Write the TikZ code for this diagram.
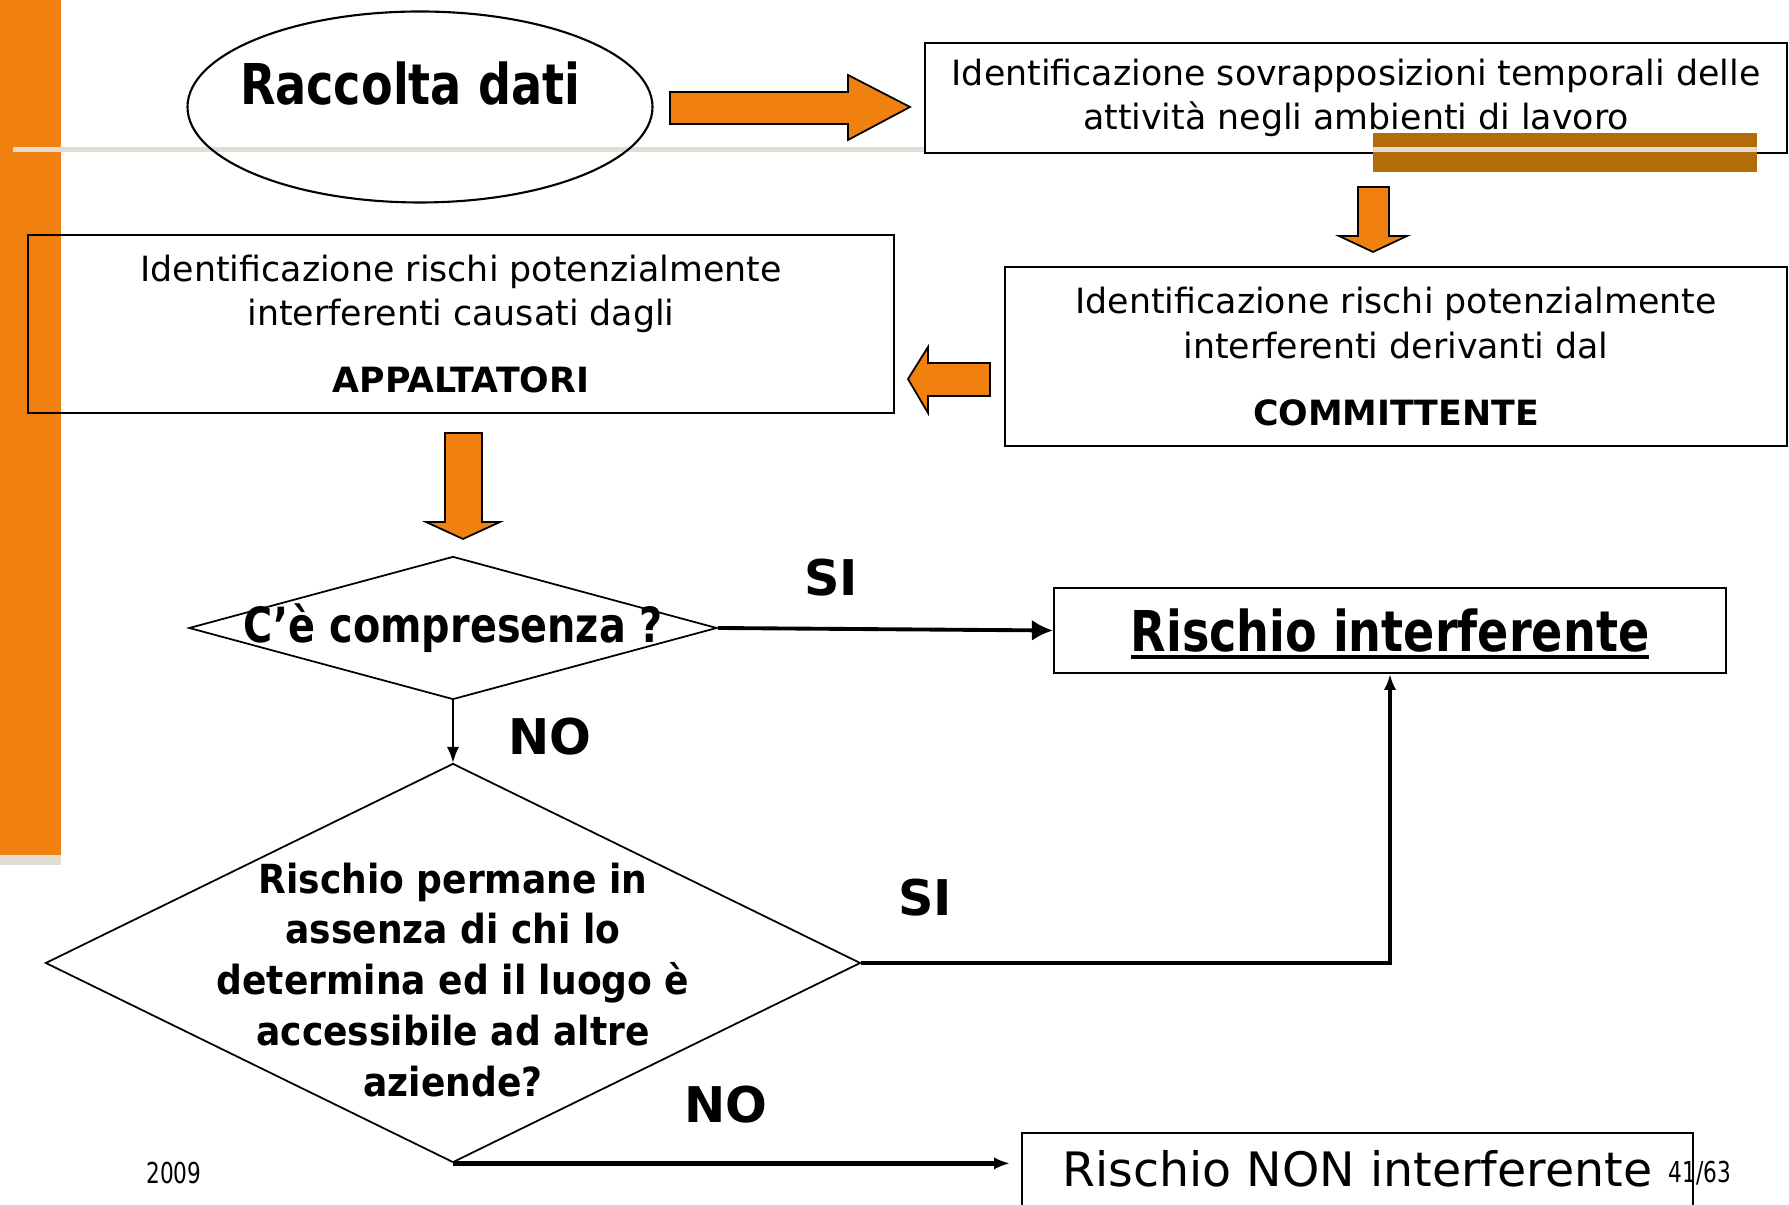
\documentclass[tikz,border=0pt]{standalone}
\usepackage{fontspec}
\usetikzlibrary{shapes.geometric,arrows.meta}

\setmainfont{DejaVu Sans}
\newfontfamily\sqzfont[FakeStretch=0.75]{DejaVu Sans}
\newfontfamily\cndfont[FakeStretch=0.82]{DejaVu Sans}
\newfontfamily\dcdfont[FakeStretch=0.90]{DejaVu Sans}

\definecolor{slideorange}{RGB}{240,128,16}
\definecolor{slidebrown}{RGB}{178,108,8}
\definecolor{slidegray}{RGB}{226,221,211}

\newcommand\fntbig{\cndfont\bfseries\fontsize{16}{19}\selectfont}
\newcommand\fntbox{\fontsize{9.9}{12.6}\selectfont}
\newcommand\fntmid{\cndfont\bfseries\fontsize{13.8}{16}\selectfont}
\newcommand\fntrisk{\cndfont\bfseries\fontsize{16}{19}\selectfont}
\newcommand\fntdec{\dcdfont\bfseries\fontsize{11.4}{14.5}\selectfont}
\newcommand\fntans{\bfseries\fontsize{14}{16}\selectfont}
\newcommand\fntnon{\fontsize{13.5}{16}\selectfont}
\newcommand\fntsmall{\sqzfont\fontsize{8.2}{10}\selectfont}

\begin{document}
\begin{tikzpicture}[>={Latex[length=4.5pt,width=3.5pt]},
  txtbox/.style={draw,rectangle,line width=0.6pt,align=center,inner sep=0pt},
  decision/.style={draw,diamond,line width=0.5pt,inner sep=0pt},
  blockarrow/.style={draw,fill=slideorange,line width=0.5pt,line join=miter},
  answer/.style={font=\fntans}]
  \useasboundingbox (0,0) rectangle (17.89,-12.05);

  % Slide template
  \fill[slideorange] (0,0) rectangle (0.61,-8.55);
  \fill[slidegray] (0,-8.55) rectangle (0.61,-8.65);
  \fill[slidegray] (0.13,-1.47) rectangle (17.57,-1.52);

  % Raccolta dati
  \node[draw,ellipse,line width=0.6pt,minimum width=4.65cm,minimum height=1.91cm] (raccolta) at (4.20,-1.07) {};
  \node[font=\fntbig] (raccoltatxt) at (4.10,-0.84) {Raccolta dati};
  \draw[blockarrow] (6.70,-0.92) -- (8.48,-0.92) -- (8.48,-0.75) -- (9.10,-1.07)
    -- (8.48,-1.40) -- (8.48,-1.24) -- (6.70,-1.24) -- cycle;

  % Sovrapposizioni
  \node[txtbox,fill=white,minimum width=8.62cm,minimum height=1.10cm,font=\fntbox] (sovrapp) at (13.56,-0.98)
    {Identificazione sovrapposizioni temporali delle\\attività negli ambienti di lavoro};
  \fill[slidebrown] (13.73,-1.33) rectangle (17.57,-1.72);
  \fill[slidegray] (13.73,-1.47) rectangle (17.57,-1.52);
  \draw[blockarrow] (13.58,-1.87) -- (13.89,-1.87) -- (13.89,-2.36) -- (14.07,-2.36)
    -- (13.73,-2.52) -- (13.39,-2.36) -- (13.58,-2.36) -- cycle;

  % Rischi committente / appaltatori
  \node[txtbox,minimum width=7.82cm,minimum height=1.79cm,font=\fntbox] (committente) at (13.96,-3.565)
    {Identificazione rischi potenzialmente\\interferenti derivanti dal\\[6.5pt]\textbf{COMMITTENTE}};
  \draw[blockarrow] (9.90,-3.63) -- (9.28,-3.63) -- (9.28,-3.47) -- (9.08,-3.79)
    -- (9.28,-4.13) -- (9.28,-3.96) -- (9.90,-3.96) -- cycle;
  \node[txtbox,minimum width=8.66cm,minimum height=1.78cm,font=\fntbox] (appaltatori) at (4.61,-3.24)
    {Identificazione rischi potenzialmente\\interferenti causati dagli\\[6.5pt]\textbf{APPALTATORI}};
  \draw[blockarrow] (4.45,-4.33) -- (4.82,-4.33) -- (4.82,-5.22) -- (5.00,-5.22)
    -- (4.63,-5.39) -- (4.26,-5.22) -- (4.45,-5.22) -- cycle;

  % Decisioni
  \node[decision,minimum width=5.28cm,minimum height=1.43cm,
    label={[font=\fntmid]center:C’è compresenza ?}] (compresenza) at (4.53,-6.28) {};
  \node[txtbox,minimum width=6.72cm,minimum height=0.85cm,font=\fntrisk] (interf) at (13.90,-6.305)
    {Rischio interferente};
  \draw[line width=1.2pt] ([xshift=-2.59cm,yshift=-0.265cm]interf.center) -- ([xshift=2.59cm,yshift=-0.265cm]interf.center);
  \node[decision,minimum width=8.15cm,minimum height=3.99cm,
    label={[font=\fntdec,align=center,yshift=-0.17cm]center:Rischio permane in\\assenza di chi lo\\determina ed il luogo è\\accessibile ad altre\\aziende?}]
    (permane) at (4.53,-9.63) {};
  \node[txtbox,anchor=north,minimum width=6.71cm,minimum height=1.2cm,
    label={[font=\fntnon,anchor=base,yshift=-0.55cm]north:Rischio NON interferente}] (noninterf) at (13.575,-11.32) {};

  % Collegamenti
  \draw[->,line width=1.1pt,>={Latex[length=6pt,width=6pt]}] (compresenza.east) -- (interf.west);
  \draw[->,line width=0.5pt] (compresenza.south) -- (permane.north);
  \draw[->,line width=0.9pt] (permane.east) -| (interf.south);
  \draw[->,line width=1.4pt,shorten >=0.11cm] (permane.south) -- (permane.south -| noninterf.west);
  \node[answer] (si1) at (8.31,-5.78) {SI};
  \node[answer] (no1) at (5.50,-7.37) {NO};
  \node[answer] (si2) at (9.25,-8.98) {SI};
  \node[answer] (no2) at (7.26,-11.05) {NO};

  % Footer
  \node[font=\fntsmall] (anno) at (1.74,-11.73) {2009};
  \node[font=\fntsmall] (pagina) at (17.00,-11.73) {41/63};
\end{tikzpicture}
\end{document}
